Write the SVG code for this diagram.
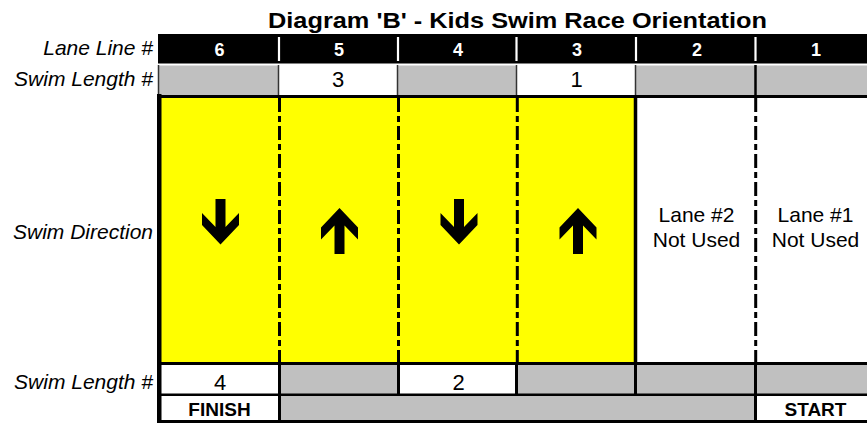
<svg xmlns="http://www.w3.org/2000/svg" width="867" height="423" viewBox="0 0 867 423">
<style>
text{font-family:"Liberation Sans",Arial,sans-serif;}
.title{font-weight:bold;font-size:22px;text-anchor:middle;fill:#000}
.lbl{font-style:italic;font-size:21px;text-anchor:end;fill:#000}
.hd{font-weight:bold;font-size:18px;text-anchor:middle;fill:#fff}
.num{font-size:22px;text-anchor:middle;fill:#000}
.note{font-size:21px;text-anchor:middle;fill:#000}
.bold{font-weight:bold;font-size:19px;text-anchor:middle;fill:#000}
.gray{fill:#c0c0c0}
.yel{fill:#ffff00}
.dash{stroke:#000;stroke-width:3;stroke-dasharray:14 4 6 4;fill:none}
.thin{stroke:#333;stroke-width:1.5}
.blk{stroke:#000;stroke-width:3}
.wsep{stroke:#fff;stroke-width:2.2}
</style>
<defs>
<polygon id="down" points="-5,0 5,0 5,28 18.5,14 18.5,26 0,45.5 -18.5,26 -18.5,14 -5,28" fill="#000"/>
<polygon id="up" points="0,0 18.5,19.5 18.5,31.5 5,17.5 5,46 -5,46 -5,17.5 -18.5,31.5 -18.5,19.5" fill="#000"/>
</defs>
<rect width="867" height="423" fill="#fff"/>
<text class="title" x="517.5" y="28" textLength="499" lengthAdjust="spacingAndGlyphs">Diagram 'B' - Kids Swim Race Orientation</text>

<g id="labels">
<text class="lbl" x="153" y="55">Lane Line #</text>
<text class="lbl" x="153" y="86">Swim Length #</text>
<text class="lbl" x="153" y="239">Swim Direction</text>
<text class="lbl" x="153" y="389">Swim Length #</text>
</g>

<g id="header">
<rect x="158" y="34" width="720" height="29.5" fill="#000"/>
<line class="wsep" x1="279" y1="37" x2="279" y2="61"/>
<line class="wsep" x1="398" y1="37" x2="398" y2="61"/>
<line class="wsep" x1="516.5" y1="37" x2="516.5" y2="61"/>
<line class="wsep" x1="636" y1="37" x2="636" y2="61"/>
<line class="wsep" x1="755.5" y1="37" x2="755.5" y2="61"/>
<text class="hd" x="219.5" y="56">6</text>
<text class="hd" x="339" y="56">5</text>
<text class="hd" x="458" y="56">4</text>
<text class="hd" x="577" y="56">3</text>
<text class="hd" x="697" y="56">2</text>
<text class="hd" x="816" y="56">1</text>
</g>

<g id="top-lengths">
<rect class="gray" x="159" y="65.5" width="119.5" height="29.5"/>
<rect class="gray" x="398" y="65.5" width="118.5" height="29.5"/>
<rect class="gray" x="636" y="65.5" width="119.5" height="29.5"/>
<rect class="gray" x="756" y="65.5" width="124" height="29.5"/>
<line class="thin" x1="158.5" y1="65" x2="158.5" y2="95"/>
<line class="thin" x1="278.5" y1="65" x2="278.5" y2="95"/>
<line class="thin" x1="397.5" y1="65" x2="397.5" y2="95"/>
<line class="thin" x1="516.5" y1="65" x2="516.5" y2="95"/>
<line class="thin" x1="635.5" y1="65" x2="635.5" y2="95"/>
<line x1="755.5" y1="65" x2="755.5" y2="95" stroke="#000" stroke-width="2.5"/>
<text class="num" x="338" y="87">3</text>
<text class="num" x="576.5" y="87">1</text>
</g>

<g id="pool">
<rect class="yel" x="159" y="96" width="477" height="267"/>
<line class="blk" x1="157" y1="96.5" x2="880" y2="96.5"/>
<line x1="635.5" y1="95" x2="635.5" y2="364" stroke="#000" stroke-width="3.5"/>
<line class="dash" x1="279.5" y1="98" x2="279.5" y2="362"/>
<line class="dash" x1="398.5" y1="98" x2="398.5" y2="362"/>
<line class="dash" x1="517.3" y1="98" x2="517.3" y2="362"/>
<line class="dash" x1="755.7" y1="98" x2="755.7" y2="362"/>
<line class="blk" x1="157" y1="363.5" x2="880" y2="363.5"/>
</g>

<g id="lane6"><use href="#down" x="220.5" y="199"/></g>
<g id="lane5"><use href="#up" x="339.5" y="208"/></g>
<g id="lane4"><use href="#down" x="459" y="199"/></g>
<g id="lane3"><use href="#up" x="578" y="208"/></g>
<g id="lane2">
<text class="note" x="696.5" y="222">Lane #2</text>
<text class="note" x="696.5" y="247">Not Used</text>
</g>
<g id="lane1">
<text class="note" x="815.5" y="222">Lane #1</text>
<text class="note" x="815.5" y="247">Not Used</text>
</g>

<g id="bottom-lengths">
<rect class="gray" x="279" y="365" width="119" height="29"/>
<rect class="gray" x="517" y="365" width="363" height="29"/>
<line class="blk" x1="279.5" y1="364" x2="279.5" y2="395"/>
<line class="blk" x1="398.5" y1="364" x2="398.5" y2="395"/>
<line class="blk" x1="516.5" y1="364" x2="516.5" y2="395"/>
<line class="blk" x1="635.5" y1="364" x2="635.5" y2="395"/>
<line class="blk" x1="755.5" y1="364" x2="755.5" y2="395"/>
<line x1="157" y1="394.8" x2="880" y2="394.8" stroke="#000" stroke-width="2.5"/>
<text class="num" x="220" y="390">4</text>
<text class="num" x="458.5" y="390">2</text>
</g>

<g id="finish-start">
<rect class="gray" x="279" y="396" width="476" height="24.5"/>
<line class="blk" x1="279.5" y1="394" x2="279.5" y2="423"/>
<line class="blk" x1="755.5" y1="394" x2="755.5" y2="423"/>
<line class="blk" x1="157" y1="421.5" x2="880" y2="421.5"/>
<text class="bold" x="219.5" y="416">FINISH</text>
<text class="bold" x="815.5" y="416">START</text>
</g>

<rect id="left-border" x="157" y="94" width="4.5" height="329" fill="#000"/>
</svg>
